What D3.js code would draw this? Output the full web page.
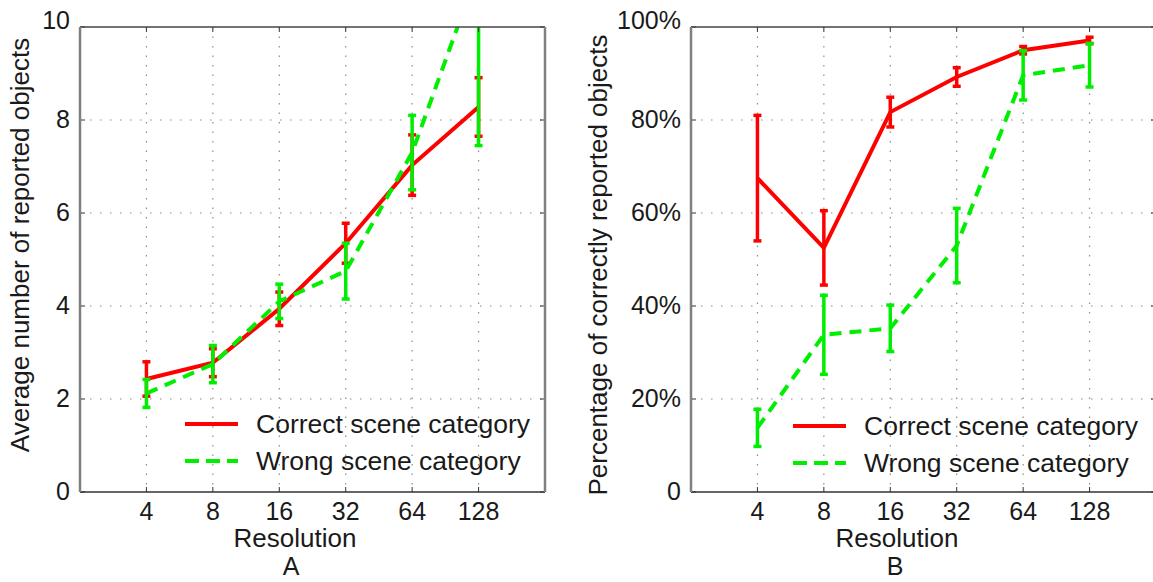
<!DOCTYPE html>
<html>
<head>
<meta charset="utf-8">
<script src="https://d3js.org/d3.v7.min.js"></script>
<style>
body { margin: 0; background: #fff; }
text { font-family: "Liberation Sans", Arial, sans-serif; fill: #1a1a1a; }
</style>
</head>
<body>
<div id="chart"></div>
<script>
// shared x categories
var resolutions = [4, 8, 16, 32, 64, 128];

// panel A: average number of reported objects
var countCorrect = [2.43, 2.78, 3.94, 5.35, 7.03, 8.28];
var countCorrectErr = [0.37, 0.3, 0.36, 0.43, 0.65, 0.63];
var countWrong = [2.12, 2.75, 4.1, 4.75, 7.3, 11.25];
var countWrongErr = [0.3, 0.4, 0.37, 0.6, 0.8, 3.8];
var countTicks = [0, 2, 4, 6, 8, 10];

// panel B: percentage of correctly reported objects
var pctCorrect = [67.5, 52.5, 81.7, 89.25, 95, 97.1];
var pctCorrectErr = [13.5, 8, 3.2, 2, 0.8, 0.7];
var pctWrong = [13.8, 33.8, 35.2, 53, 89.6, 91.8];
var pctWrongErr = [4, 8.5, 5, 8, 5.3, 4.7];
var pctTicks = [0, 20, 40, 60, 80, 100];

var seriesNames = ["Correct scene category", "Wrong scene category"];
var red = "#ff0000", green = "#00ee00";

var W = 1153, H = 582;
var plotTop = 27, plotBottom = 492;

var svg = d3.select("#chart").append("svg")
    .attr("width", W)
    .attr("height", H);

var panels = [
    {
        id: "A", left: 80, right: 545,
        ticks: countTicks, fmt: function(d) { return d; },
        correct: countCorrect, correctErr: countCorrectErr,
        wrong: countWrong, wrongErr: countWrongErr,
        yTitle: "Average number of reported objects", yTitleX: 29, yTitleY: 245,
        xTitleX: 295, letterX: 291,
        legX: 185, legY: 424
    },
    {
        id: "B", left: 691, right: 1156,
        ticks: pctTicks, fmt: function(d) { return d === 0 ? "0" : d + "%"; },
        correct: pctCorrect, correctErr: pctCorrectErr,
        wrong: pctWrong, wrongErr: pctWrongErr,
        yTitle: "Percentage of correctly reported objects", yTitleX: 607, yTitleY: 265,
        xTitleX: 897, letterX: 895,
        legX: 793, legY: 426
    }
];

panels.forEach(function(p) {
    var x = d3.scaleLog().base(2).domain([2, 256]).range([p.left, p.right]);
    var y = d3.scaleLinear().domain([p.ticks[0], p.ticks[p.ticks.length - 1]]).range([plotBottom, plotTop]);

    var g = svg.append("g");

    svg.append("clipPath").attr("id", "clip" + p.id)
        .append("rect")
        .attr("x", p.left).attr("y", plotTop)
        .attr("width", p.right - p.left).attr("height", plotBottom - plotTop);

    // dotted grid
    g.selectAll(".gx").data(resolutions).enter().append("line")
        .attr("x1", d => x(d)).attr("x2", d => x(d))
        .attr("y1", plotTop).attr("y2", plotBottom)
        .attr("stroke", "#8c8c8c").attr("stroke-width", 1.2)
        .attr("stroke-dasharray", "1.5,8");
    g.selectAll(".gy").data(p.ticks.slice(1, -1)).enter().append("line")
        .attr("x1", p.left).attr("x2", p.right)
        .attr("y1", d => y(d)).attr("y2", d => y(d))
        .attr("stroke", "#8c8c8c").attr("stroke-width", 1.2)
        .attr("stroke-dasharray", "1.5,8.5");

    // data
    var data = g.append("g").attr("clip-path", "url(#clip" + p.id + ")");
    var series = [
        { vals: p.correct, err: p.correctErr, color: red, dash: null },
        { vals: p.wrong, err: p.wrongErr, color: green, dash: "12,8" }
    ];
    var line = d3.line().x((d, i) => x(resolutions[i])).y(d => y(d));
    series.forEach(function(s) {
        data.append("path").datum(s.vals)
            .attr("d", line)
            .attr("fill", "none")
            .attr("stroke", s.color)
            .attr("stroke-width", 4)
            .attr("stroke-dasharray", s.dash);
        var eb = data.selectAll(null).data(s.vals).enter().append("g")
            .attr("stroke", s.color).attr("stroke-width", 3.5);
        eb.append("line")
            .attr("x1", (d, i) => x(resolutions[i])).attr("x2", (d, i) => x(resolutions[i]))
            .attr("y1", (d, i) => y(d - s.err[i])).attr("y2", (d, i) => y(d + s.err[i]));
        [-1, 1].forEach(function(sign) {
            eb.append("line")
                .attr("x1", (d, i) => x(resolutions[i]) - 4).attr("x2", (d, i) => x(resolutions[i]) + 4)
                .attr("y1", (d, i) => y(d + sign * s.err[i])).attr("y2", (d, i) => y(d + sign * s.err[i]));
        });
    });

    // inner tick marks on all four sides
    resolutions.forEach(function(r) {
        g.append("line").attr("x1", x(r)).attr("x2", x(r)).attr("y1", plotTop).attr("y2", plotTop + 5).attr("stroke", "#333");
        g.append("line").attr("x1", x(r)).attr("x2", x(r)).attr("y1", plotBottom).attr("y2", plotBottom - 5).attr("stroke", "#333");
    });
    p.ticks.forEach(function(t) {
        g.append("line").attr("x1", p.left).attr("x2", p.left + 5).attr("y1", y(t)).attr("y2", y(t)).attr("stroke", "#333");
        g.append("line").attr("x1", p.right).attr("x2", p.right - 5).attr("y1", y(t)).attr("y2", y(t)).attr("stroke", "#333");
    });

    // frame
    g.append("line").attr("x1", p.left).attr("x2", p.right).attr("y1", plotTop).attr("y2", plotTop)
        .attr("stroke", "#444").attr("stroke-width", 1.6);
    g.append("line").attr("x1", p.left).attr("x2", p.right).attr("y1", plotBottom).attr("y2", plotBottom)
        .attr("stroke", "#333").attr("stroke-width", 1.6);
    g.append("line").attr("x1", p.left).attr("x2", p.left).attr("y1", plotTop).attr("y2", plotBottom)
        .attr("stroke", "#808080").attr("stroke-width", 2.5);
    g.append("line").attr("x1", p.right).attr("x2", p.right).attr("y1", plotTop).attr("y2", plotBottom)
        .attr("stroke", "#808080").attr("stroke-width", 2.5);

    // tick labels
    g.selectAll(".xl").data(resolutions).enter().append("text")
        .attr("x", d => x(d)).attr("y", 520)
        .attr("text-anchor", "middle")
        .style("font-size", "25px")
        .text(d => d);
    g.selectAll(".yl").data(p.ticks).enter().append("text")
        .attr("x", p.left - 10)
        .attr("y", (d, i) => y(d) + 8 - (i === p.ticks.length - 1 ? 6 : 0))
        .attr("text-anchor", "end")
        .style("font-size", "25px")
        .text(p.fmt);

    // titles
    g.append("text").attr("x", p.xTitleX).attr("y", 547)
        .attr("text-anchor", "middle").style("font-size", "26px").text("Resolution");
    g.append("text").attr("x", p.letterX).attr("y", 575)
        .attr("text-anchor", "middle").style("font-size", "25px").text(p.id);
    g.append("text")
        .attr("transform", "translate(" + p.yTitleX + "," + p.yTitleY + ") rotate(-90)")
        .attr("text-anchor", "middle").style("font-size", "26px").text(p.yTitle);

    // legend
    var leg = g.append("g").attr("transform", "translate(" + p.legX + "," + p.legY + ")");
    [red, green].forEach(function(c, i) {
        leg.append("line").attr("x1", 0).attr("x2", 53).attr("y1", i * 37).attr("y2", i * 37)
            .attr("stroke", c).attr("stroke-width", 4)
            .attr("stroke-dasharray", i === 1 ? "14,7" : null);
        leg.append("text").attr("x", 71).attr("y", i * 37 + 9)
            .style("font-size", "26.5px").text(seriesNames[i]);
    });
});
</script>
</body>
</html>
